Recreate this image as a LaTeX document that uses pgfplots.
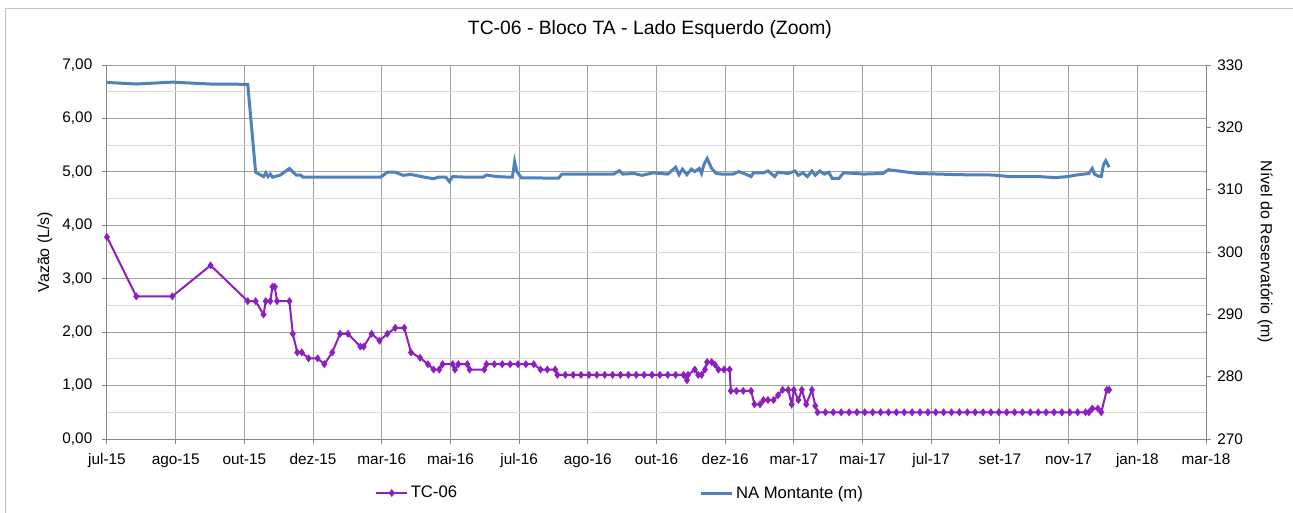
\documentclass[border=0pt]{standalone}
\usepackage{fontspec}
\setmainfont{Liberation Sans}
\usepackage{pgfplots}
\pgfplotsset{compat=1.18}

\definecolor{tcpurple}{RGB}{142,30,190}
\definecolor{nablue}{RGB}{79,129,189}
\definecolor{axgray}{RGB}{134,134,134}
\definecolor{gridmaj}{RGB}{160,160,160}
\definecolor{gridmin}{RGB}{217,217,217}

% x = days since 01/07/2015, one tick every 61 days
\pgfplotsset{
  chartbase/.style={
    scale only axis, width=824.25pt, height=280.5pt,
    at={(0,0)}, anchor=south west,
    xmin=0, xmax=976,
    tick align=outside, major tick length=3.5pt,
    tick style={axgray, line width=0.75pt},
    axis line style={axgray, line width=0.75pt},
    ticklabel style={font=\fontsize{11.5}{13}\selectfont},
    label style={font=\fontsize{12}{14}\selectfont},
    /pgf/number format/assume math mode=true,
  },
}

\begin{document}
\begin{tikzpicture}
\useasboundingbox (-80.25pt,-54.75pt) rectangle (889.5pt,329.25pt);
\draw[gray!50, line width=0.75pt] (-75.75pt,-70pt) -- (-75.75pt,323.25pt) -- (900pt,323.25pt);

\begin{axis}[chartbase,
    axis x line*=bottom, axis y line*=left,
    ymin=0, ymax=7, ytick={0,1,...,7},
    minor y tick num=1, minor tick length=0pt,
    grid=both,
    major grid style={gridmaj, line width=0.75pt},
    minor grid style={gridmin, line width=0.75pt},
    xtick={0,61,...,976},
    xticklabels={jul-15,ago-15,out-15,dez-15,mar-16,mai-16,jul-16,ago-16,out-16,dez-16,mar-17,mai-17,jul-17,set-17,nov-17,jan-18,mar-18},
    xticklabel style={yshift=-4pt},
    yticklabel style={xshift=-4pt, /pgf/number format/fixed, /pgf/number format/fixed zerofill,
      /pgf/number format/precision=2, /pgf/number format/use comma},
    ylabel={Vazão (L/s)},
    ylabel style={at={(axis description cs:-0.0564,0.5)}, anchor=center, rotate=0},
    title={TC-06 - Bloco TA - Lado Esquerdo (Zoom)},
    title style={at={(axis description cs:0.494,1)}, anchor=base, yshift=17pt,
      font=\fontsize{14.5}{17}\selectfont},
    legend columns=2,
    legend style={at={(axis description cs:0.2440,-0.1444)}, anchor=west, draw=none, fill=none,
      inner xsep=0pt, font=\fontsize{12.5}{15}\selectfont,
      /tikz/every even column/.append style={column sep=180pt}},
    legend image code/.code={\draw[mark repeat=2,mark phase=2,#1] plot coordinates {(0pt,0pt) (11.5pt,0pt) (23pt,0pt)};},
]
\addplot[tcpurple, line width=1.5pt, mark=diamond*, mark size=1.8pt] coordinates {
(0,3.78) (26,2.67) (58,2.67) (92,3.25) (125,2.58) (132,2.58) (139,2.33) (141,2.58)
(145,2.58) (147,2.85) (149,2.85) (151,2.58) (162,2.58) (165,1.97) (169,1.62) (173,1.62)
(179,1.51) (187,1.51) (193,1.40) (200,1.62) (207,1.97) (214,1.97) (225,1.73) (228,1.73)
(235,1.97) (242,1.84) (249,1.97) (256,2.08) (264,2.08) (270,1.62) (278,1.52) (285,1.40)
(290,1.30) (295,1.30) (298,1.40) (307,1.40) (309,1.30) (312,1.40) (320,1.40) (322,1.30)
(335,1.30) (337,1.40) (344,1.40) (351,1.40) (358,1.40) (365,1.40) (372,1.40) (379,1.40)
(385,1.30) (391,1.30) (398,1.30) (400,1.20) (407,1.20) (414,1.20) (421,1.20) (428,1.20)
(435,1.20) (442,1.20) (449,1.20) (456,1.20) (463,1.20) (470,1.20) (477,1.20) (484,1.20)
(491,1.20) (498,1.20) (505,1.20) (512,1.20) (515,1.10) (516,1.20) (522,1.30) (525,1.20)
(528,1.20) (531,1.30) (533,1.44) (537,1.44) (540,1.39) (543,1.30) (548,1.30) (553,1.30)
(554,0.90) (559,0.90) (565,0.90) (572,0.90) (575,0.65) (580,0.65) (583,0.73) (587,0.73)
(592,0.73) (596,0.82) (600,0.92) (605,0.92) (608,0.65) (610,0.92) (614,0.73) (617,0.92)
(621,0.65) (626,0.92) (629,0.62) (631,0.50) (638,0.50) (645,0.50) (652,0.50) (659,0.50)
(666,0.50) (673,0.50) (680,0.50) (687,0.50) (694,0.50) (701,0.50) (708,0.50) (715,0.50)
(722,0.50) (729,0.50) (736,0.50) (743,0.50) (750,0.50) (757,0.50) (764,0.50) (771,0.50)
(778,0.50) (785,0.50) (792,0.50) (799,0.50) (806,0.50) (813,0.50) (820,0.50) (827,0.50)
(834,0.50) (841,0.50) (848,0.50) (855,0.50) (862,0.50) (869,0.50) (872,0.50) (875,0.57)
(880,0.57) (883,0.50) (888,0.92) (890,0.92)
};
\addlegendentry{TC-06}
\addlegendimage{nablue, line width=2.25pt}
\addlegendentry{NA Montante (m)}
\end{axis}

\begin{axis}[chartbase,
    axis y line*=right, axis x line=none,
    ymin=270, ymax=330, ytick={270,280,...,330},
    yticklabel style={xshift=1.5pt},
    ylabel={Nível do Reservatório (m)},
    ylabel style={at={(axis description cs:1.0537,0.5)}, anchor=center, rotate=180},
]
\addplot[nablue, line width=2.25pt] coordinates {
(0,327.2) (26,326.95) (58,327.25) (92,326.95) (125,326.9) (132,312.8) (139,312.1) (141,312.7)
(143,312.1) (145,312.5) (147,312.0) (154,312.35) (162,313.4) (168,312.35) (172,312.35) (174,312.0)
(243,312.0) (249,312.8) (256,312.8) (263,312.3) (270,312.45) (279,312.1) (290,311.75) (294,312.0)
(301,312.0) (304,311.3) (307,312.1) (320,312.0) (334,312.0) (337,312.35) (346,312.1) (358,312.0)
(360,312.0) (362,314.5) (364,312.9) (368,311.9) (401,311.85) (404,312.5) (450,312.5) (455,313.05)
(458,312.5) (468,312.6) (475,312.3) (485,312.7) (498,312.5) (505,313.6) (508,312.4) (511,313.3)
(515,312.4) (519,313.3) (522,312.9) (526,313.4) (528,312.6) (530,314.0) (533,315.0) (537,313.4)
(541,312.6) (546,312.5) (556,312.5) (561,312.9) (567,312.5) (572,312.1) (574,312.7) (583,312.7)
(587,313.0) (593,312.1) (596,312.8) (605,312.6) (611,313.0) (614,312.3) (618,312.7) (622,312.1)
(626,313.0) (629,312.3) (633,313.0) (637,312.5) (641,312.8) (644,311.8) (650,311.8) (654,312.7)
(665,312.6) (672,312.5) (689,312.6) (694,313.2) (707,312.9) (720,312.6) (757,312.4) (787,312.35)
(802,312.1) (828,312.1) (842,311.93) (853,312.1) (861,312.35) (872,312.6) (875,313.4) (877,312.5)
(880,312.2) (883,312.1) (885,314.0) (887,314.65) (890,313.6)
};
\end{axis}
\end{tikzpicture}
\end{document}
